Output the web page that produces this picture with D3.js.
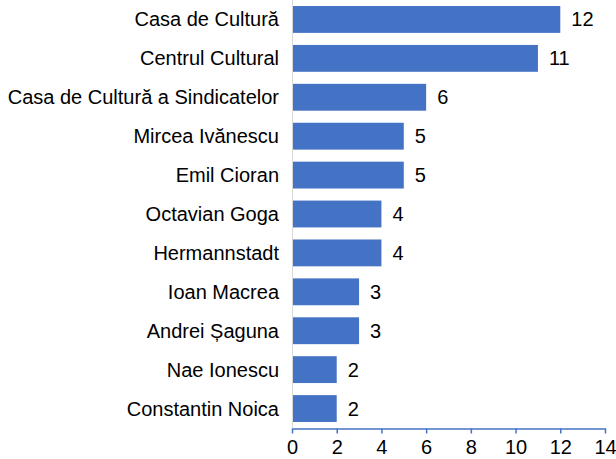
<!DOCTYPE html>
<html>
<head>
<meta charset="utf-8">
<script src="https://cdn.jsdelivr.net/npm/d3@7"></script>
<style>
body { margin: 0; background: #fff; }
text { font-family: "Liberation Sans", Arial, sans-serif; }
</style>
</head>
<body>
<div id="chart"></div>
<script>
var names = ["Casa de Cultură", "Centrul Cultural", "Casa de Cultură a Sindicatelor", "Mircea Ivănescu", "Emil Cioran", "Octavian Goga", "Hermannstadt", "Ioan Macrea", "Andrei Șaguna", "Nae Ionescu", "Constantin Noica"];
var counts = [12, 11, 6, 5, 5, 4, 4, 3, 3, 2, 2];
var xTicks = [0, 2, 4, 6, 8, 10, 12, 14];

var width = 616, height = 459;
var plotLeft = 292, plotRight = 605, plotTop = 0, plotBottom = 428;

var svg = d3.select("#chart").append("svg")
	.attr("width", width)
	.attr("height", height);

var x = d3.scaleLinear().domain([0, 14]).range([plotLeft, plotRight]);
var y = d3.scaleBand().domain(names).range([plotTop, plotBottom]).paddingInner(0.31).paddingOuter(0.155);

// bars
svg.selectAll(".bar")
	.data(names)
	.enter().append("rect")
	.attr("x", x(0))
	.attr("y", function(d) { return y(d); })
	.attr("width", function(d, i) { return x(counts[i]) - x(0); })
	.attr("height", y.bandwidth())
	.attr("fill", "#4472c4");

// value labels
svg.selectAll(".val")
	.data(names)
	.enter().append("text")
	.attr("x", function(d, i) { return x(counts[i]) + 11; })
	.attr("y", function(d) { return y(d) + y.bandwidth() / 2; })
	.attr("dy", "0.35em")
	.attr("font-size", "20px")
	.attr("fill", "#000")
	.text(function(d, i) { return counts[i]; });

// category labels
svg.selectAll(".cat")
	.data(names)
	.enter().append("text")
	.attr("x", 279)
	.attr("y", function(d) { return y(d) + y.bandwidth() / 2; })
	.attr("dy", "0.35em")
	.attr("text-anchor", "end")
	.attr("font-size", "20px")
	.attr("fill", "#000")
	.text(function(d) { return d; });

// vertical axis line
svg.append("line")
	.attr("x1", x(0) + 0.5).attr("x2", x(0) + 0.5)
	.attr("y1", plotTop).attr("y2", plotBottom)
	.attr("stroke", "#d9d9d9")
	.attr("stroke-width", 1);

// bottom axis
var xAxis = svg.append("g")
	.attr("transform", "translate(0," + (plotBottom + 0.5) + ")")
	.call(d3.axisBottom(x).tickValues(xTicks).tickSize(5).tickSizeOuter(0).tickPadding(6));
xAxis.select(".domain").attr("stroke", "#4472c4").attr("stroke-width", 1.5);
xAxis.selectAll(".tick line").attr("stroke", "#4472c4").attr("stroke-width", 1.5);
xAxis.selectAll(".tick text")
	.attr("font-size", "20px")
	.attr("font-family", "Liberation Sans, Arial, sans-serif")
	.attr("fill", "#000");
</script>
</body>
</html>
